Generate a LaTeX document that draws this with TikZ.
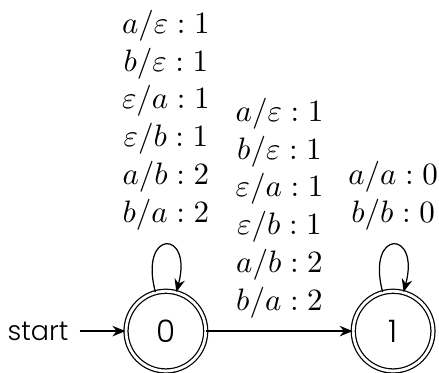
\documentclass[tikz,border=0pt]{standalone}
\usepackage{fontspec}
\newfontfamily\uifont{Poppins}[UprightFont=* Light]
\usetikzlibrary{arrows.meta,calc,automata}
\begin{document}
\begin{tikzpicture}[
  >={Stealth[length=4.2pt,width=3.4pt]},
  statenode/.style={circle, draw, double, double distance=0.9pt, minimum size=25.7pt, inner sep=0pt, font=\uifont\fontsize{10}{12}\selectfont},
  lbl/.style={align=center, font=\fontsize{10}{12.2}\selectfont},
  looplbl/.style={above, inner sep=4.5pt},
]
\useasboundingbox (0,0) rectangle (141.6pt,-120.3pt);
\node[statenode] (q0) at (53.5pt,-106.8pt) {0};
\node[statenode] (q1) at (126.8pt,-106.8pt) {1};
\node[anchor=east, font=\uifont\fontsize{8.7}{10}\selectfont] (start) at ($(q0.west)+(-14.8pt,0)$) {start};
\draw[->] (start) -- (q0);
\draw[->] (q0) to[loop above, looseness=8, min distance=5mm] node[looplbl, lbl] {$a/\varepsilon:1$\\$b/\varepsilon:1$\\$\varepsilon/a:1$\\$\varepsilon/b:1$\\$a/b:2$\\$b/a:2$} (q0);
\draw[->] (q0) -- node[above, inner sep=4pt, lbl] {$a/\varepsilon:1$\\$b/\varepsilon:1$\\$\varepsilon/a:1$\\$\varepsilon/b:1$\\$a/b:2$\\$b/a:2$} (q1);
\draw[->] (q1) to[loop above, looseness=8, min distance=5mm] node[looplbl, lbl] {$a/a:0$\\$b/b:0$} (q1);
\end{tikzpicture}
\end{document}
